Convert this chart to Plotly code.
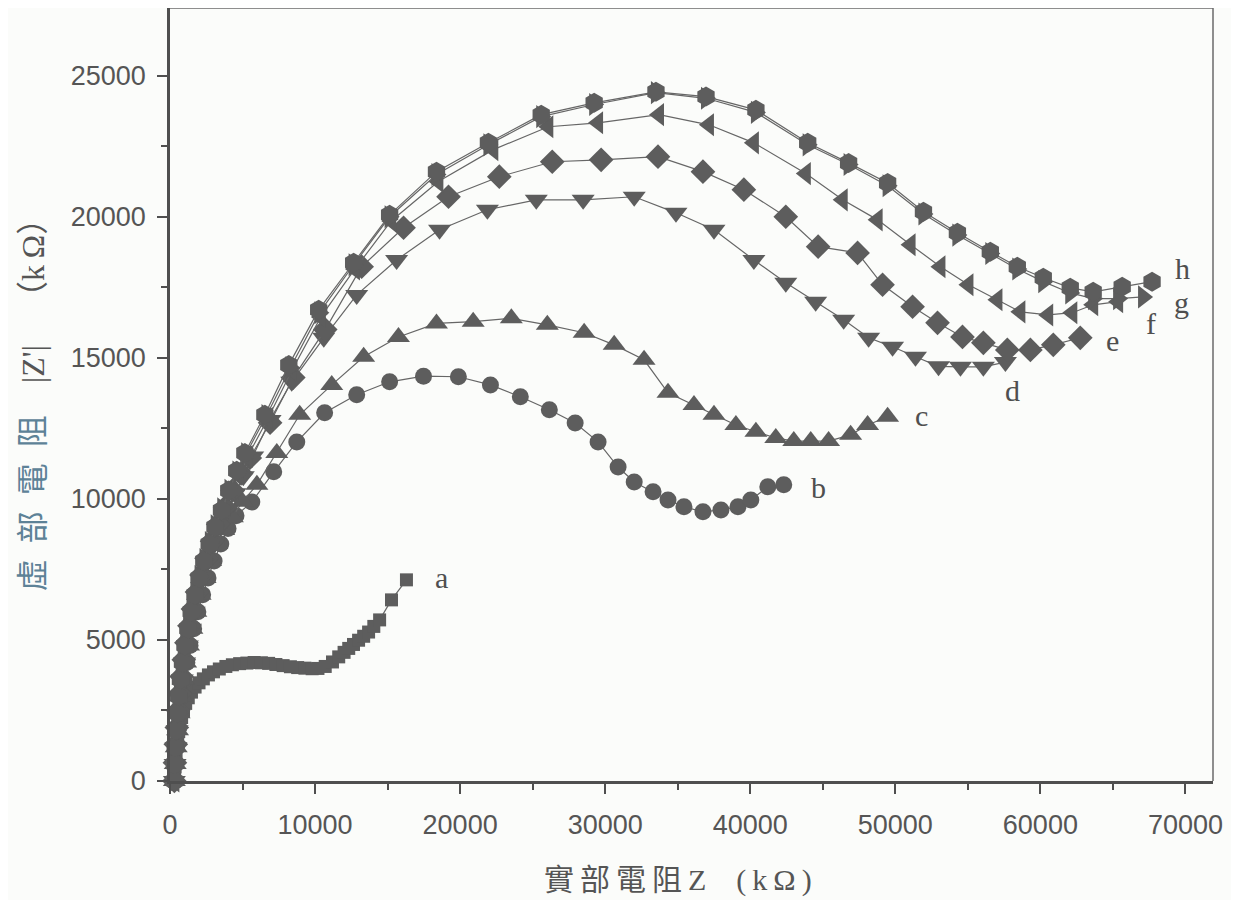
import plotly.graph_objects as go

# curve a (squares)
a_x = [300, 320, 350, 380, 420, 470, 530, 600, 690, 800, 930, 1080, 1260, 1480, 1730, 2000, 2300, 2650,
       3000, 3400, 3850, 4300, 4800, 5300, 5800, 6300, 6800, 7300, 7800, 8300, 8800, 9300, 9800, 10200,
       10700, 11200, 11630, 12000, 12320, 12650, 13000, 13350, 13690, 14050, 14450, 15270, 16300]
a_y = [0, 250, 500, 750, 1000, 1250, 1500, 1750, 2000, 2250, 2500, 2750, 2950, 3150, 3330, 3480, 3620, 3760,
       3870, 3970, 4060, 4120, 4160, 4180, 4200, 4190, 4170, 4130, 4090, 4050, 4020, 4000, 3980, 3990,
       4060, 4220, 4400, 4560, 4700, 4840, 4990, 5130, 5280, 5480, 5710, 6420, 7130]

# curve b (circles)
b_x = [300, 370, 450, 550, 670, 810, 970, 1160, 1380, 1630, 1920, 2250, 2620, 3040, 3500, 4000, 4550,
       5640, 7150, 8740, 10660, 12870, 15140, 17475, 19880, 22090, 24150, 26150, 27930, 29510, 30890,
       32000, 33300, 34330, 35430, 36740, 37980, 39150, 40040, 41210, 42310]
b_y = [0, 600, 1200, 1800, 2400, 3000, 3600, 4200, 4800, 5400, 6000, 6600, 7200, 7800, 8400, 8950, 9400,
       9890, 10960, 12020, 13050, 13690, 14150, 14350, 14330, 14040, 13620, 13160, 12690, 12020, 11130,
       10600, 10250, 9960, 9720, 9540, 9610, 9720, 9960, 10430, 10500]

# curve c (up triangles)
c_x = [300, 360, 430, 520, 630, 760, 910, 1080, 1280, 1510, 1780, 2080, 2420, 2800, 3230, 3700, 4300,
       5000, 5990, 7360, 8940, 11150, 13350, 15750, 18370, 20900, 23530, 26010, 28550, 30620, 32680,
       34330, 36120, 37500, 39010, 40390, 41760, 43000, 44170, 45400, 46920, 48090, 49470]
c_y = [0, 600, 1200, 1800, 2400, 3000, 3600, 4200, 4800, 5400, 6000, 6600, 7200, 7800, 8400, 8900, 9350,
       9900, 10500, 11630, 12980, 14040, 15040, 15740, 16220, 16280, 16400, 16170, 15890, 15460, 14930,
       13760, 13330, 12980, 12620, 12380, 12160, 12050, 12050, 12050, 12270, 12620, 12910]

# curve d (down triangles)
d_x = [300, 350, 410, 490, 590, 710, 850, 1010, 1200, 1420, 1670, 1950, 2270, 2630, 3030, 3470, 3950,
       4480, 5050, 5700, 6900, 8390, 10600, 12870, 15620, 18580, 21880, 25250, 28480, 32000, 34880,
       37500, 40250, 42450, 44510, 46440, 48160, 49810, 51390, 52980, 54490, 56070, 57590]
d_y = [0, 600, 1200, 1800, 2400, 3000, 3600, 4200, 4800, 5400, 6000, 6600, 7200, 7800, 8400, 9000, 9600,
       10200, 10800, 11500, 12800, 14150, 15710, 17230, 18470, 19540, 20250, 20600, 20600, 20710, 20140,
       19540, 18470, 17660, 16990, 16350, 15710, 15390, 15040, 14700, 14680, 14680, 14850]

# curve e (diamonds)
e_x = [300, 340, 400, 470, 560, 670, 800, 950, 1130, 1340, 1580, 1860, 2170, 2520, 2900, 3320, 3800,
       4320, 4900, 5500, 6900, 8500, 10700, 13210, 16100, 19200, 22700, 26350, 29720, 33640, 36740,
       39560, 42450, 44680, 47400, 49120, 51190, 52910, 54630, 56070, 57720, 59310, 60890, 62750]
e_y = [0, 650, 1300, 1900, 2500, 3100, 3700, 4300, 4900, 5500, 6100, 6700, 7300, 7900, 8500, 9100, 9700,
       10300, 10900, 11450, 12700, 14300, 16000, 18230, 19610, 20710, 21420, 21950, 22020, 22130, 21600,
       20960, 20000, 18940, 18720, 17590, 16810, 16240, 15740, 15530, 15280, 15280, 15460, 15710]

# curve f (left triangles)
f_x = [300, 340, 390, 460, 550, 650, 770, 920, 1090, 1300, 1530, 1800, 2100, 2440, 2820, 3230, 3700,
       4200, 4750, 5350, 6750, 8400, 10400, 12750, 15250, 18500, 22290, 26080, 29510, 33710, 37150,
       40250, 43830, 46370, 48780, 51050, 53110, 55040, 57040, 58620, 60540, 62200, 63640, 65360]
f_y = [0, 700, 1300, 1900, 2500, 3100, 3700, 4300, 4900, 5500, 6100, 6700, 7300, 7900, 8500, 9100, 9700,
       10300, 10900, 11500, 12850, 14550, 16450, 18150, 19850, 21250, 22380, 23190, 23330, 23620, 23260,
       22620, 21530, 20600, 19890, 19010, 18230, 17590, 17060, 16630, 16520, 16600, 16880, 16990]

# curve g (right triangles)
g_x = [300, 330, 370, 440, 520, 620, 740, 880, 1050, 1250, 1480, 1750, 2040, 2380, 2750, 3150, 3600,
       4100, 4650, 5250, 6650, 8300, 10300, 12660, 15140, 18370, 21950, 25590, 29240, 33500, 36950,
       40390, 43960, 46780, 49470, 51940, 54280, 56550, 58410, 60200, 62060, 63640, 65360, 67080]
g_y = [0, 650, 1250, 1850, 2450, 3050, 3650, 4250, 4850, 5450, 6050, 6650, 7250, 7850, 8450, 9050, 9650,
       10300, 10950, 11600, 12950, 14650, 16600, 18300, 20000, 21500, 22550, 23550, 23980, 24400, 24200,
       23700, 22550, 21850, 21100, 20100, 19350, 18700, 18150, 17700, 17300, 17100, 17100, 17160]

# curve h (hexagons)
h_x = [300, 320, 360, 420, 500, 600, 720, 860, 1030, 1230, 1460, 1720, 2000, 2330, 2700, 3100, 3550,
       4050, 4600, 5160, 6540, 8190, 10250, 12660, 15140, 18370, 21950, 25590, 29240, 33500, 36950,
       40390, 43960, 46780, 49470, 51940, 54280, 56550, 58410, 60200, 62060, 63640, 65640, 67700]
h_y = [0, 600, 1200, 1800, 2400, 3000, 3600, 4200, 4800, 5400, 6000, 6600, 7200, 7800, 8400, 9000, 9600,
       10300, 11000, 11630, 12980, 14750, 16700, 18370, 20070, 21600, 22620, 23620, 24040, 24430, 24260,
       23790, 22620, 21910, 21200, 20180, 19430, 18760, 18230, 17840, 17480, 17340, 17520, 17700]

labels = ["a", "b", "c", "d", "e", "f", "g", "h"]
label_x = [18700, 44700, 51800, 58100, 65000, 67600, 69700, 69800]
label_y = [7200, 10400, 12950, 13850, 15600, 16200, 16950, 18150]

series = [
    (a_x, a_y, "square", 13),
    (b_x, b_y, "circle", 17),
    (c_x, c_y, "triangle-up", 20),
    (d_x, d_y, "triangle-down", 20),
    (e_x, e_y, "diamond", 19),
    (f_x, f_y, "triangle-left", 20),
    (g_x, g_y, "triangle-right", 20),
    (h_x, h_y, "hexagon", 20),
]

mark = "#5d5d5d"
ink = "#4f4f4f"

fig = go.Figure()
for (xs, ys, sym, sz), name in zip(series, labels):
    fig.add_trace(go.Scatter(
        x=xs, y=ys, mode="lines+markers", name=name,
        line=dict(color="#666666", width=1.2),
        marker=dict(symbol=sym, size=sz, color=mark, line=dict(width=0)),
        cliponaxis=False,
    ))

for t, lx, ly in zip(labels, label_x, label_y):
    fig.add_annotation(x=lx, y=ly, text=t, showarrow=False,
                       font=dict(family="Liberation Serif", size=30, color=ink))

# axis titles
fig.add_annotation(
    xref="paper", yref="paper", x=0.487, y=-0.128, xanchor="center", yanchor="middle",
    text="實\u2009部\u2009電\u2009阻\u2009Z\u2003(\u2009k\u2009Ω\u2009)", showarrow=False,
    font=dict(family="Liberation Serif, Noto Sans CJK TC", size=30, color="#555555"),
)
fig.add_annotation(
    xref="paper", yref="paper", x=-0.132, y=0.497, xanchor="center", yanchor="middle",
    textangle=-90, showarrow=False,
    text="<span style='color:#5d8297'>虛\u2002部\u2002電\u2002阻</span>\u2003|Z'|\u2003（k\u2009Ω）",
    font=dict(family="Liberation Serif, Noto Sans CJK TC", size=32, color="#555555"),
)

# thin top and right border
fig.add_shape(type="line", xref="paper", yref="paper", x0=0, x1=1, y0=1, y1=1,
              line=dict(color="#6a6a6a", width=1.5))
fig.add_shape(type="line", xref="paper", yref="paper", x0=1, x1=1, y0=0, y1=1,
              line=dict(color="#6a6a6a", width=1.5))

fig.update_layout(
    width=1239, height=900,
    margin=dict(l=162, r=34, t=0, b=127),
    paper_bgcolor="#fbfcfa", plot_bgcolor="#fbfcfa",
    showlegend=False,
    font=dict(family="Liberation Sans, Arial", color=ink),
)

fig.update_xaxes(
    range=[0, 71900], showgrid=False, zeroline=False,
    showline=True, linecolor=ink, linewidth=2.5,
    ticks="outside", ticklen=10, tickwidth=2, tickcolor=ink,
    dtick=10000, tickformat="d", ticklabelstandoff=8,
    tickfont=dict(size=27, color="#555555"),
    minor=dict(ticks="outside", ticklen=6, tickwidth=2, tickcolor=ink, dtick=5000),
)
fig.update_yaxes(
    range=[0, 27400], showgrid=False, zeroline=False,
    showline=True, linecolor=ink, linewidth=2.5,
    ticks="outside", ticklen=10, tickwidth=2, tickcolor=ink,
    dtick=5000, tickformat="d", ticklabelstandoff=6,
    tickfont=dict(size=27, color="#555555"),
    minor=dict(ticks="outside", ticklen=6, tickwidth=2, tickcolor=ink, dtick=2500),
)

fig.write_html("out.html")
